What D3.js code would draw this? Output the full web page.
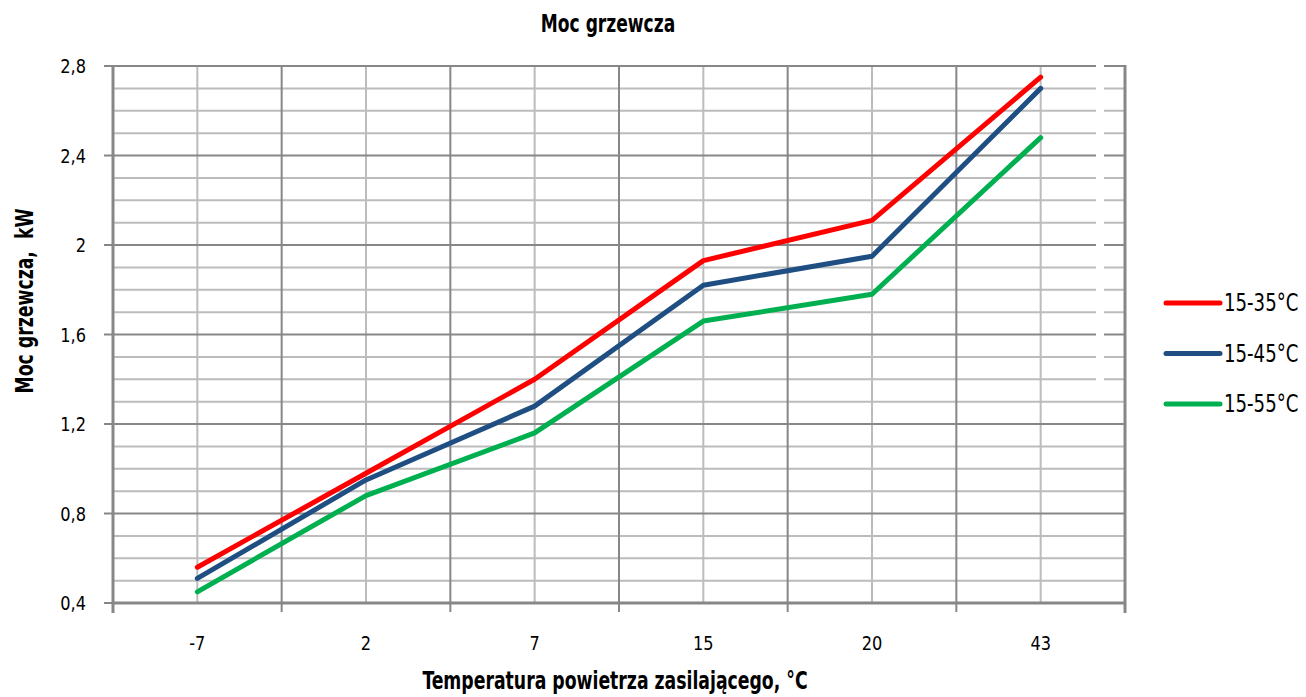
<!DOCTYPE html>
<html>
<head>
<meta charset="utf-8">
<script src="https://cdn.jsdelivr.net/npm/d3@7"></script>
<style>
  body { margin: 0; background: #fff; }
  svg { display: block; }
</style>
</head>
<body>
<div id="chart"></div>
<script>
const categories = ["-7", "2", "7", "15", "20", "43"];
const seriesNames = ["15-35°C", "15-45°C", "15-55°C"];
const seriesColors = ["#ff0000", "#1f4e82", "#00b050"];
const values3535 = [0.56, 0.98, 1.40, 1.93, 2.11, 2.75];
const values4545 = [0.51, 0.95, 1.28, 1.82, 1.95, 2.70];
const values5555 = [0.45, 0.88, 1.16, 1.66, 1.78, 2.48];
const yTicks = [0.4, 0.8, 1.2, 1.6, 2.0, 2.4, 2.8];
const yTickLabels = ["0,4", "0,8", "1,2", "1,6", "2", "2,4", "2,8"];

const series = [values3535, values4545, values5555].map((v, i) => ({
  name: seriesNames[i], color: seriesColors[i], values: v
}));

const width = 1306, height = 697;
const margin = { top: 66, right: 181, bottom: 94, left: 113 };
const font = "'Liberation Sans Narrow', 'DejaVu Sans Condensed', 'Roboto', sans-serif";
const darkGrid = "#878787", lightGrid = "#bcbcbc";

const x = d3.scaleBand()
    .domain(categories)
    .range([margin.left, width - margin.right])
    .padding(0);

const y = d3.scaleLinear()
    .domain([0.4, 2.8])
    .range([height - margin.bottom, margin.top]);

const svg = d3.select("#chart")
  .append("svg")
    .attr("width", width)
    .attr("height", height)
    .attr("viewBox", [0, 0, width, height])
    .style("font-family", font);

const grid = svg.append("g");

// minor horizontal gridlines every 0.1
const minor = d3.range(5, 28).map(i => i / 10).filter(v => Math.abs(v * 10 % 4) > 1e-6);
grid.selectAll("line.hminor")
  .data(minor)
  .join("line")
    .attr("x1", margin.left).attr("x2", width - margin.right)
    .attr("y1", d => y(d)).attr("y2", d => y(d))
    .attr("stroke", lightGrid).attr("stroke-width", 2);

// vertical lines at category centres
grid.selectAll("line.vcenter")
  .data(categories)
  .join("line")
    .attr("x1", d => x(d) + x.bandwidth() / 2).attr("x2", d => x(d) + x.bandwidth() / 2)
    .attr("y1", margin.top).attr("y2", height - margin.bottom)
    .attr("stroke", lightGrid).attr("stroke-width", 2);

// major horizontal gridlines
grid.selectAll("line.hmajor")
  .data(yTicks.slice(1))
  .join("line")
    .attr("x1", margin.left).attr("x2", width - margin.right)
    .attr("y1", d => y(d)).attr("y2", d => y(d))
    .attr("stroke", darkGrid).attr("stroke-width", 2);

// vertical lines at band boundaries
const bounds = categories.slice(1).map(c => x(c));
grid.selectAll("line.vbound")
  .data(bounds)
  .join("line")
    .attr("x1", d => d).attr("x2", d => d)
    .attr("y1", margin.top).attr("y2", height - margin.bottom + 9)
    .attr("stroke", darkGrid).attr("stroke-width", 2);

// white gap in the upper right gridlines (as in the source image)
svg.append("rect")
    .attr("x", width - margin.right - 29)
    .attr("y", margin.top - 3)
    .attr("width", 8)
    .attr("height", y(1.35) - margin.top)
    .attr("fill", "#fff");

// axes frame
const xr = width - margin.right;
svg.append("line")
    .attr("x1", margin.left).attr("x2", margin.left)
    .attr("y1", margin.top - 1).attr("y2", height - margin.bottom + 10)
    .attr("stroke", darkGrid).attr("stroke-width", 3);
svg.append("line")
    .attr("x1", xr).attr("x2", xr)
    .attr("y1", margin.top - 1).attr("y2", height - margin.bottom + 10)
    .attr("stroke", darkGrid).attr("stroke-width", 3);
svg.append("line")
    .attr("x1", margin.left).attr("x2", xr)
    .attr("y1", y(0.4)).attr("y2", y(0.4))
    .attr("stroke", darkGrid).attr("stroke-width", 3);

// y ticks
svg.selectAll("line.ytick")
  .data(yTicks)
  .join("line")
    .attr("x1", margin.left - 9).attr("x2", margin.left)
    .attr("y1", d => y(d)).attr("y2", d => y(d))
    .attr("stroke", darkGrid).attr("stroke-width", 2);

// narrow look of the original font: squeeze text horizontally
const sxTick = 0.9;

svg.selectAll("text.ylab")
  .data(yTicks)
  .join("text")
    .attr("transform", d => `translate(${margin.left - 27},${y(d)}) scale(${sxTick},1)`)
    .attr("dy", "0.35em")
    .attr("text-anchor", "end")
    .style("font-size", "20px")
    .text((d, i) => yTickLabels[i]);

// x labels
svg.selectAll("text.xlab")
  .data(categories)
  .join("text")
    .attr("transform", d => `translate(${x(d) + x.bandwidth() / 2},${height - margin.bottom + 47}) scale(${sxTick},1)`)
    .attr("text-anchor", "middle")
    .style("font-size", "20px")
    .text(d => d);

// lines
const line = d3.line()
    .x((d, i) => x(categories[i]) + x.bandwidth() / 2)
    .y(d => y(d));

svg.selectAll("path.series")
  .data(series)
  .join("path")
    .attr("fill", "none")
    .attr("stroke", d => d.color)
    .attr("stroke-width", 5)
    .attr("stroke-linejoin", "round")
    .attr("stroke-linecap", "round")
    .attr("d", d => line(d.values));

// titles
svg.append("text")
    .attr("transform", "translate(608,32) scale(0.76,1)")
    .attr("text-anchor", "middle")
    .style("font-size", "25px").style("font-weight", "bold")
    .text("Moc grzewcza");

svg.append("text")
    .attr("transform", `translate(615,689) scale(0.8,1)`)
    .attr("text-anchor", "middle")
    .style("font-size", "24px").style("font-weight", "bold")
    .text("Temperatura powietrza zasilającego, °C");

svg.append("text")
    .attr("transform", `translate(33,301) rotate(-90) scale(0.8,1)`)
    .attr("text-anchor", "middle")
    .style("font-size", "24px").style("font-weight", "bold")
    .style("white-space", "pre")
    .text("Moc grzewcza,  kW");

// legend
const legend = svg.append("g")
  .selectAll("g")
  .data(series)
  .join("g")
    .attr("transform", (d, i) => `translate(1166,${303 + i * 50.5})`);

legend.append("line")
    .attr("x1", 0).attr("x2", 54)
    .attr("stroke", d => d.color)
    .attr("stroke-width", 5)
    .attr("stroke-linecap", "round");

legend.append("text")
    .attr("transform", "translate(58,0) scale(0.84,1)")
    .attr("dy", "0.35em")
    .style("font-size", "24px")
    .text(d => d.name);
</script>
</body>
</html>
